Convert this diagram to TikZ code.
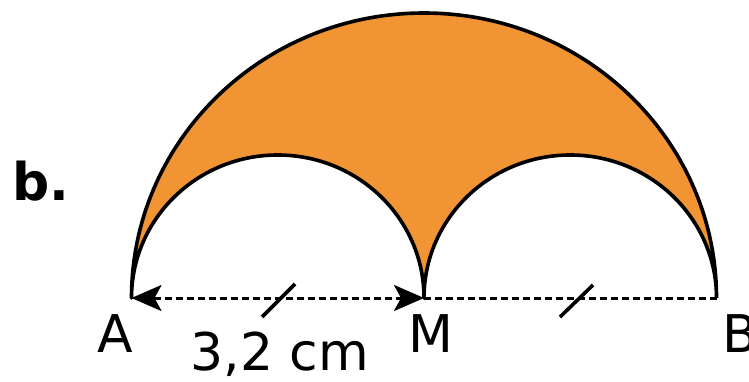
\documentclass[tikz,border=0pt]{standalone}
\usepackage{fontspec}
\setmainfont{DejaVu Sans}
\usetikzlibrary{arrows.meta}
\definecolor{fillorange}{RGB}{240,148,52}
\tikzset{
  outline/.style={draw=black, line width=1.8pt, line join=round, fill=fillorange},
  baseline dash/.style={line width=1.5pt, dash pattern=on 3.5pt off 2pt},
  tickmark/.style={line width=1.8pt},
  lbl/.style={font=\fontsize{26}{30}\selectfont, inner sep=0pt, anchor=base},
  bigarrows/.style={arrows={Stealth[length=15pt, width=13pt, inset=3.5pt]-Stealth[length=15pt, width=13pt, inset=3.5pt]}}
}
\begin{document}
\begin{tikzpicture}[x=0.5pt, y=0.5pt]
\useasboundingbox (0,0) rectangle (749,381);
\coordinate (A) at (131.5,83);
\coordinate (M) at (424,83);
\coordinate (B) at (716.5,83);
% shaded region
\path[outline] (B) arc[start angle=0, end angle=180, x radius=292.5, y radius=285]
  arc[start angle=180, end angle=0, x radius=146.25, y radius=143]
  arc[start angle=180, end angle=0, x radius=146.25, y radius=143];
% dashed baseline with arrows
\draw[baseline dash, bigarrows] (A) -- (M);
\draw[baseline dash] (M) -- (B);
% tick marks
\coordinate (t1a) at (262,64); \coordinate (t1b) at (295,97);
\coordinate (t2a) at (560,64); \coordinate (t2b) at (593,96);
\draw[tickmark] (t1a) -- (t1b);
\draw[tickmark] (t2a) -- (t2b);
% labels
\node[lbl] (lA) at (115,29) {A};
\node[lbl] (lM) at (431,29) {M};
\node[lbl, anchor=base west] (lB) at (722,29) {B};
\node[lbl] (len) at (280,11) {3,2 cm};
\node[lbl, anchor=base west, font=\fontsize{26}{30}\selectfont\bfseries] (lb) at (12,181) {b.};
\end{tikzpicture}
\end{document}
